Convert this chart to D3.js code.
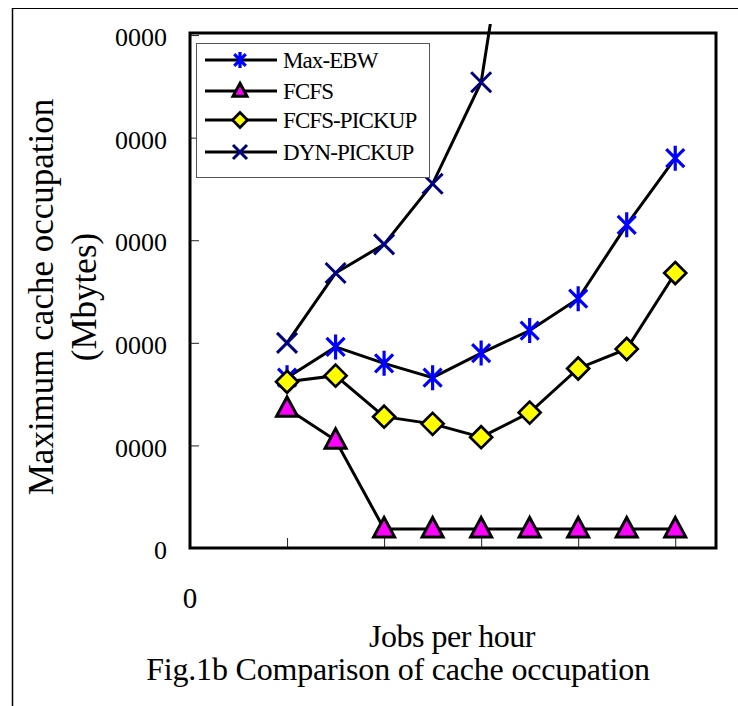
<!DOCTYPE html>
<html>
<head>
<meta charset="utf-8">
<script src="https://cdn.jsdelivr.net/npm/d3@7"></script>
<style>
  html, body { margin: 0; padding: 0; background: #fff; }
  svg { display: block; font-family: "Liberation Serif", "DejaVu Serif", serif; }
</style>
</head>
<body>
<div id="chart"></div>
<script>
// data (Mbytes)
const jobsPerHour = [10, 15, 20, 25, 30, 35, 40, 45, 50];
const maxEBW     = [16600, 19600, 18000, 16600, 19000, 21200, 24300, 31500, 38000];
const fcfs       = [13600, 10500, 1850, 1850, 1850, 1850, 1850, 1850, 1850];
const fcfsPickup = [16200, 16800, 12800, 12100, 10800, 13200, 17500, 19400, 26800];
const dynPickup  = [20000, 26800, 29600, 35500, 45400, 75500, null, null, null];
const seriesNames = ['Max-EBW', 'FCFS', 'FCFS-PICKUP', 'DYN-PICKUP'];
const yTicks = [0, 10000, 20000, 30000, 40000, 50000];
const yTickLabels = ['0', '0000', '0000', '0000', '0000', '0000'];
const xTicks = [0, 10, 20, 30, 40, 50];
const xTickLabels = ['0', '', '', '', '', ''];

const width = 738, height = 706;
const m = { left: 190, right: 716, top: 33, bottom: 548 };

const svg = d3.select('#chart').append('svg')
  .attr('width', width)
  .attr('height', height);

// outer frame lines (top + left)
svg.append('line').attr('x1', 12).attr('x2', width).attr('y1', 8.5).attr('y2', 8.5)
  .attr('stroke', '#000').attr('stroke-width', 1.2);
svg.append('line').attr('x1', 12.5).attr('x2', 12.5).attr('y1', 8).attr('y2', height)
  .attr('stroke', '#000').attr('stroke-width', 1.5);

const x = d3.scaleLinear().domain([0, 54.2]).range([m.left, m.right]);
const y = d3.scaleLinear().domain([0, 50200]).range([m.bottom, m.top]);

// ticks (inward)
svg.append('g')
  .attr('transform', `translate(${m.left},0)`)
  .call(d3.axisRight(y).tickValues(yTicks).tickSize(9).tickFormat(''))
  .call(g => g.select('.domain').remove())
  .selectAll('line').attr('stroke', '#222').attr('stroke-width', 1);

svg.append('g')
  .attr('transform', `translate(0,${m.bottom})`)
  .call(d3.axisTop(x).tickValues(xTicks).tickSize(10).tickFormat(''))
  .call(g => g.select('.domain').remove())
  .selectAll('line').attr('stroke', '#222').attr('stroke-width', 1);

// tick labels
svg.append('g').selectAll('text')
  .data(yTicks)
  .join('text')
  .attr('x', 167)
  .attr('y', d => y(d) + 2)
  .attr('dy', '0.35em')
  .attr('text-anchor', 'end')
  .attr('font-size', 26)
  .text((d, i) => yTickLabels[i]);

svg.append('g').selectAll('text')
  .data(xTicks)
  .join('text')
  .attr('x', d => x(d))
  .attr('y', 608)
  .attr('text-anchor', 'middle')
  .attr('font-size', 29)
  .text((d, i) => xTickLabels[i]);

// markers
function asterisk(s) {
  const d = s * 0.72;
  return `M0,${-s}L0,${s}M${-d},${-d}L${d},${d}M${-d},${d}L${d},${-d}`;
}
function cross(s) {
  return `M${-s},${-s}L${s},${s}M${-s},${s}L${s},${-s}`;
}
function triangle(s) {
  return `M0,${-s * 1.1}L${s},${s * 0.75}L${-s},${s * 0.75}Z`;
}
function diamond(s) {
  return `M0,${-s}L${s},0L0,${s}L${-s},0Z`;
}

const series = [
  { name: seriesNames[0], values: maxEBW, path: asterisk, size: 12.5, legSize: 8, fill: 'none', stroke: '#0000ff', sw: 3.2 },
  { name: seriesNames[1], values: fcfs, path: triangle, size: 10.5, legSize: 7, fill: '#ff00ff', stroke: '#000', sw: 3 },
  { name: seriesNames[2], values: fcfsPickup, path: diamond, size: 11, legSize: 7.5, fill: '#ffff00', stroke: '#000', sw: 2.7 },
  { name: seriesNames[3], values: dynPickup, path: cross, size: 10, legSize: 7, fill: 'none', stroke: '#000080', sw: 3 }
];

svg.append('defs').append('clipPath').attr('id', 'plotclip')
  .append('rect').attr('x', m.left).attr('y', 24)
  .attr('width', m.right - m.left).attr('height', m.bottom - 24);

const line = d3.line()
  .defined(d => d[1] != null)
  .x(d => x(d[0]))
  .y(d => y(d[1]));

series.forEach(s => {
  const pts = jobsPerHour.map((j, i) => [j, s.values[i]]);
  const g = svg.append('g');
  g.append('path')
    .datum(pts)
    .attr('clip-path', 'url(#plotclip)')
    .attr('d', line)
    .attr('fill', 'none')
    .attr('stroke', '#000')
    .attr('stroke-width', 3);
  g.selectAll('path.mk')
    .data(pts.filter(p => p[1] != null && y(p[1]) > m.top))
    .join('path')
    .attr('class', 'mk')
    .attr('transform', p => `translate(${x(p[0])},${y(p[1])})`)
    .attr('d', s.path(s.size))
    .attr('fill', s.fill)
    .attr('stroke', s.stroke)
    .attr('stroke-width', s.sw)
    .attr('stroke-linejoin', 'miter');
});

// plot frame
svg.append('rect')
  .attr('x', m.left).attr('y', m.top)
  .attr('width', m.right - m.left).attr('height', m.bottom - m.top)
  .attr('fill', 'none')
  .attr('stroke', '#000')
  .attr('stroke-width', 3);

// legend
const legend = svg.append('g');
legend.append('rect')
  .attr('x', 196.5).attr('y', 43.5).attr('width', 233).attr('height', 134)
  .attr('fill', '#fff').attr('stroke', '#555').attr('stroke-width', 1);
const legY = [60, 91, 120, 152];
series.forEach((s, i) => {
  const row = legend.append('g').attr('transform', `translate(0,${legY[i]})`);
  row.append('line').attr('x1', 205).attr('x2', 277)
    .attr('stroke', '#000').attr('stroke-width', 3);
  row.append('path')
    .attr('transform', 'translate(240,0)')
    .attr('d', s.path(s.legSize))
    .attr('fill', s.fill)
    .attr('stroke', s.stroke)
    .attr('stroke-width', s.sw);
  row.append('text')
    .attr('x', 283).attr('y', 0).attr('dy', '0.35em')
    .attr('font-size', 23)
    .attr('letter-spacing', -0.9)
    .text(s.name);
});

// axis titles
const yt = svg.append('text')
  .attr('transform', 'translate(53,297) rotate(-90)')
  .attr('text-anchor', 'middle')
  .attr('font-size', 35);
yt.append('tspan').attr('x', 0).attr('y', 0).text('Maximum cache occupation');
yt.append('tspan').attr('x', 0).attr('y', 43).text('(Mbytes)');

svg.append('text')
  .attr('x', 452).attr('y', 647)
  .attr('text-anchor', 'middle')
  .attr('font-size', 32)
  .attr('letter-spacing', -0.5)
  .text('Jobs per hour');

svg.append('text')
  .attr('x', 398).attr('y', 680)
  .attr('text-anchor', 'middle')
  .attr('font-size', 32)
  .attr('letter-spacing', -0.2)
  .text('Fig.1b Comparison of cache occupation');
</script>
</body>
</html>
